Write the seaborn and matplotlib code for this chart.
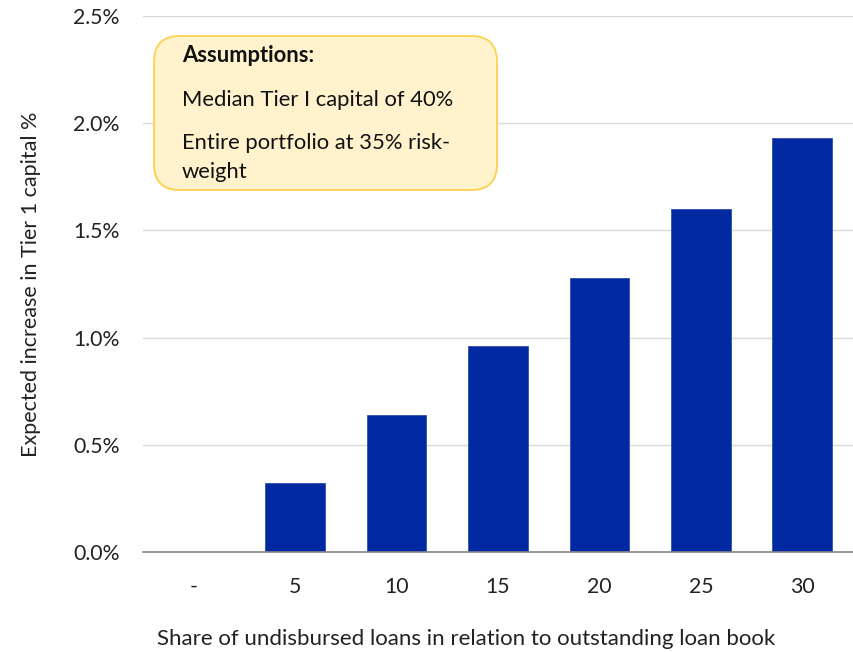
import matplotlib
matplotlib.use("Agg")
import matplotlib.pyplot as plt
from matplotlib.patches import FancyBboxPatch
from matplotlib.ticker import FuncFormatter, FixedLocator
import seaborn as sns
import pandas as pd

# Share of undisbursed loans (category labels) and expected capital increase (%)
categories = ["-", "5", "10", "15", "20", "25", "30"]
increase_pct = [0.0, 0.32, 0.64, 0.96, 1.28, 1.60, 1.93]

assumption_title = "Assumptions:"
assumption_lines = ["Median Tier I capital of 40%", "Entire portfolio at 35% risk-", "weight"]

sns.set_theme(style="white")
plt.rcParams["font.family"] = ["Lato", "DejaVu Sans"]

W, H = 854, 652
fig = plt.figure(figsize=(W / 100, H / 100), dpi=100)
ax = fig.add_axes([143 / W, 1 - 552 / H, 710 / W, 536 / H])

df = pd.DataFrame({"share": categories, "increase": increase_pct})
sns.barplot(data=df, x="share", y="increase", order=categories, color="#0029A1",
            saturation=1, width=0.59, edgecolor="#2F4FB0", linewidth=0.6, ax=ax)

ax.set_ylim(0, 2.5)
ax.set_xlim(-0.5, len(categories) - 0.5)
ax.set_yticks([0, 0.5, 1.0, 1.5, 2.0, 2.5])
ax.yaxis.set_major_formatter(FuncFormatter(lambda v, _: f"{v:.1f}%"))
ax.grid(axis="y", color="#D9D9D9", linewidth=1.0)
ax.set_axisbelow(True)

for side in ["top", "right", "left"]:
    ax.spines[side].set_visible(False)
ax.spines["bottom"].set_color("#868686")
ax.spines["bottom"].set_linewidth(1.2)

tick_fs = 15.3
ax.tick_params(axis="y", length=0, pad=17, labelsize=tick_fs, labelcolor="#222222")
ax.tick_params(axis="x", which="major", length=0, pad=18, labelsize=tick_fs, labelcolor="#222222")
ax.xaxis.set_minor_locator(FixedLocator([i - 0.5 for i in range(len(categories) + 1)]))
ax.tick_params(axis="x", which="minor", length=7, width=1.2, color="#868686", direction="out")

ax.set_xlabel("Share of undisbursed loans in relation to outstanding loan book",
              fontsize=16.0, color="#222222")
ax.xaxis.set_label_coords(0.4556, -0.143)
ax.set_ylabel("Expected increase in Tier 1 capital %", fontsize=15.5, color="#222222")
ax.yaxis.set_label_coords(-0.143, 0.5)

# Assumptions callout
box = FancyBboxPatch((154 / W, 1 - 190 / H), 343 / W, 154 / H,
                     boxstyle="round,pad=0,rounding_size=0.03",
                     transform=fig.transFigure, facecolor="#FFF2CC",
                     edgecolor="#FFD04D", linewidth=1.3, zorder=5,
                     mutation_aspect=W / H)
fig.patches.append(box)
fig.text(182 / W, 1 - 55 / H, assumption_title, fontsize=15.8, fontweight="bold",
         va="center", ha="left", color="#111111", zorder=6)
for ypix, line in zip([100, 143, 172], assumption_lines):
    fig.text(182 / W, 1 - ypix / H, line, fontsize=15.8, va="center", ha="left",
             color="#111111", zorder=6)

fig.savefig("out.png", dpi=100, facecolor="white")
